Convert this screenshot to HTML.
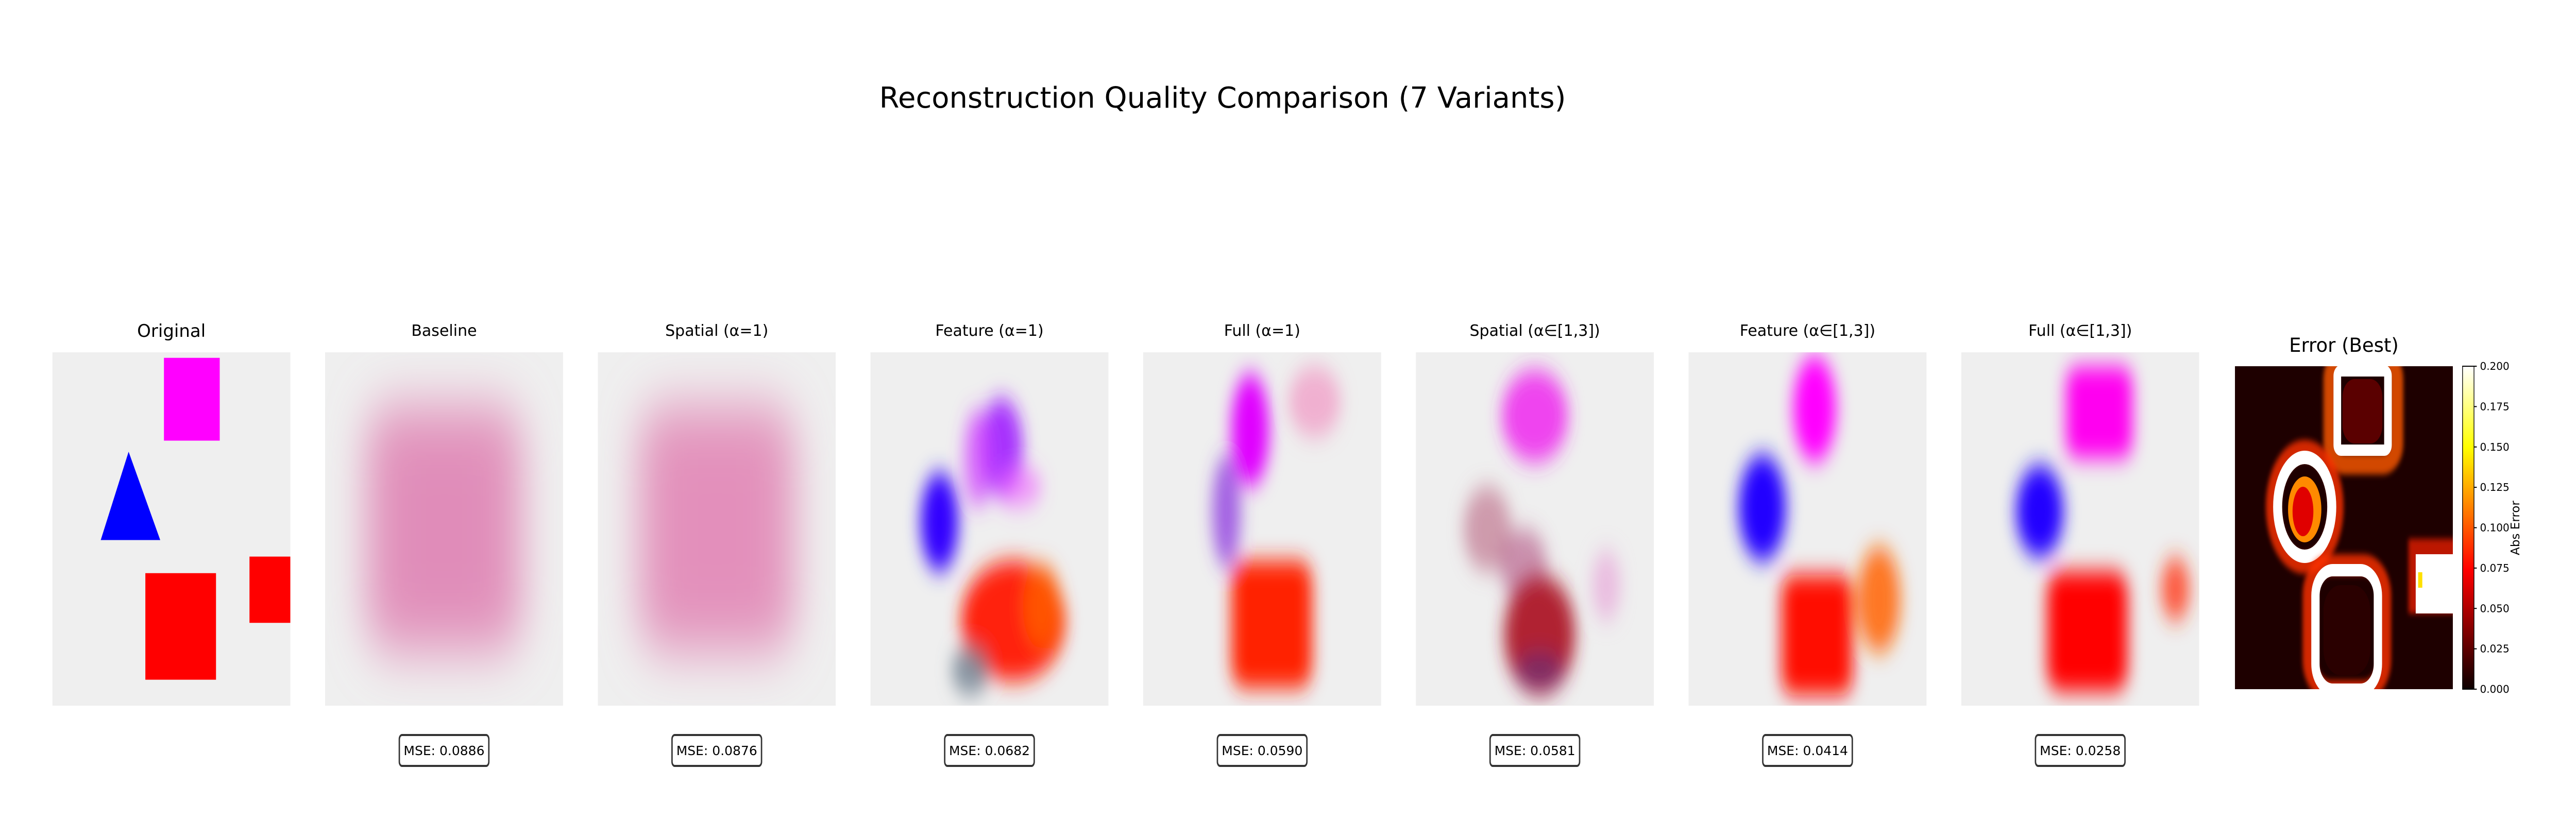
<!DOCTYPE html>
<html><head><meta charset="utf-8">
<style>
html,body{margin:0;padding:0;background:#fff;overflow:hidden;width:100%;height:100%;}
svg{display:block;width:100vw;height:100vh;font-family:"DejaVu Sans","Liberation Sans",sans-serif;}
</style></head>
<body>
<svg id="fig" viewBox="0 0 7425 1625" preserveAspectRatio="none" xmlns="http://www.w3.org/2000/svg">
<defs>
  <filter id="blur1" x="-50%" y="-50%" width="200%" height="200%"><feGaussianBlur stdDeviation="22"/></filter>
  <filter id="blur2" x="-50%" y="-50%" width="200%" height="200%"><feGaussianBlur stdDeviation="55"/></filter>
  <filter id="blur3" x="-50%" y="-50%" width="200%" height="200%"><feGaussianBlur stdDeviation="6"/></filter>
  <linearGradient id="hot" x1="0" y1="1" x2="0" y2="0">
    <stop offset="0" stop-color="#0b0000"/>
    <stop offset="0.37" stop-color="#ff0000"/>
    <stop offset="0.75" stop-color="#ffff00"/>
    <stop offset="1" stop-color="#ffffff"/>
  </linearGradient>
</defs>
<text x="3524" y="209" font-size="56" text-anchor="middle">Reconstruction Quality Comparison (7 Variants)</text>
<g id="panels"></g>
<g id="errpanel">
  <text x="6756" y="683" font-size="37" text-anchor="middle">Error (Best)</text>
  <clipPath id="clipErr"><rect x="6442" y="711" width="628" height="627"/></clipPath>
  <g clip-path="url(#clipErr)">
    <rect x="6442" y="711" width="628" height="627" fill="#1e0000"/>
    <g transform="translate(6442,711)">
      <rect x="275" y="-15" width="190" height="205" rx="40" fill="none" stroke="#ff5a00" stroke-width="40" opacity="0.8" filter="url(#blur3)"/>
      <rect x="295" y="9" width="146" height="154" rx="10" fill="none" stroke="#fff" stroke-width="22"/>
      <rect x="310" y="25" width="115" height="125" rx="35" fill="#5a0000"/>
      <ellipse cx="201" cy="273" rx="92" ry="110" fill="none" stroke="#ff3000" stroke-width="40" opacity="0.8" filter="url(#blur3)"/>
      <ellipse cx="201" cy="273" rx="78" ry="96" fill="none" stroke="#fff" stroke-width="26"/>
      <ellipse cx="201" cy="278" rx="48" ry="64" fill="#ff8a00"/>
      <ellipse cx="196" cy="282" rx="30" ry="48" fill="#e00000"/>
      <rect x="215" y="385" width="215" height="245" rx="60" fill="none" stroke="#ff3000" stroke-width="40" opacity="0.8" filter="url(#blur3)"/>
      <rect x="232" y="396" width="180" height="232" rx="50" fill="none" stroke="#fff" stroke-width="24"/>
      <rect x="255" y="425" width="135" height="175" rx="50" fill="#2a0000"/>
      <rect x="500" y="335" width="150" height="145" fill="#ff2000" opacity="0.7" filter="url(#blur3)"/>
      <rect x="521" y="365" width="110" height="115" fill="#fff"/>
      <rect x="528" y="400" width="12" height="30" fill="#ffe000"/>
    </g>
  </g>
  <rect x="7098" y="711" width="33" height="627" fill="url(#hot)" stroke="#000" stroke-width="2"/>
  <g id="cbticks"></g>
  <text id="cblabel" transform="translate(7262,1025) rotate(-90)" font-size="23" text-anchor="middle">Abs Error</text>
</g>
</svg>
<script>
const titles = ["Original","Baseline","Spatial (α=1)","Feature (α=1)","Full (α=1)","Spatial (α∈[1,3])","Feature (α∈[1,3])","Full (α∈[1,3])"];
const mseValues = [null,0.0886,0.0876,0.0682,0.0590,0.0581,0.0414,0.0258];
const cbTicks = [0,0.025,0.05,0.075,0.1,0.125,0.15,0.175,0.2];
// [cx, cy, rx, ry, color, opacity, isRect]
const blobs = [
  [],
  [[0.5,0.5,0.33,0.35,"#e295bd",1,1],[0.5,0.5,0.2,0.22,"#e08ab8",0.8,1]],
  [[0.5,0.5,0.33,0.35,"#e397be",1,1],[0.5,0.5,0.2,0.22,"#e28dba",0.8,1]],
  [[0.55,0.27,0.09,0.14,"#a020ff",0.9],[0.45,0.3,0.06,0.14,"#d040ff",0.7],[0.62,0.38,0.1,0.06,"#ee60ff",0.6],[0.29,0.48,0.08,0.14,"#3000ff",1],[0.6,0.76,0.22,0.17,"#ff2010",1],[0.72,0.72,0.08,0.12,"#ff6000",0.8],[0.42,0.9,0.08,0.07,"#708090",0.8]],
  [[0.45,0.22,0.08,0.16,"#e000ff",1],[0.35,0.45,0.06,0.16,"#9040e0",0.8],[0.72,0.14,0.11,0.1,"#f0a0c8",0.8],[0.54,0.77,0.17,0.18,"#ff2000",1,1]],
  [[0.5,0.18,0.14,0.13,"#ee30ee",0.9],[0.3,0.5,0.1,0.12,"#c07890",0.7],[0.45,0.6,0.1,0.1,"#b05080",0.6],[0.52,0.8,0.15,0.17,"#b02030",1],[0.52,0.9,0.1,0.05,"#703070",0.8],[0.8,0.66,0.06,0.1,"#e8b0dc",0.8]],
  [[0.53,0.16,0.09,0.15,"#ff00ff",1],[0.31,0.44,0.1,0.15,"#2000ff",1],[0.54,0.8,0.15,0.17,"#ff1000",1,1],[0.8,0.7,0.09,0.15,"#ff6a10",0.9]],
  [[0.58,0.17,0.14,0.13,"#ff00f0",1,1],[0.33,0.45,0.1,0.13,"#2000ff",1],[0.53,0.79,0.17,0.17,"#ff0000",1,1],[0.9,0.67,0.06,0.09,"#ff4020",0.85]]
];
const NS = "http://www.w3.org/2000/svg";
const PX0 = 151, STEP = 786, PW = 686, PY = 684, PH = 686;
function px(i){ return PX0 + i*STEP; }
function mk(tag, attrs, parent){ const e=document.createElementNS(NS,tag); for(const k in attrs) e.setAttribute(k,attrs[k]); parent.appendChild(e); return e; }
const panels = document.getElementById("panels");
titles.forEach((t,i)=>{
  const x = px(i);
  const g = mk("g",{},panels);
  
  
  const tt = mk("text",{"x":x+PW/2,"y":i===0?654:652,"font-size":i===0?34:30,"text-anchor":"middle"},g);
  tt.textContent = t;
  
  
  const cp = mk("clipPath",{"id":"cp"+i},g);
  mk("rect",{"x":x,"y":PY,"width":PW,"height":PH},cp);
  const img = mk("g",{"clip-path":"url(#cp"+i+")"},g);
  
  
  mk("rect",{"x":x,"y":PY,"width":PW,"height":PH,"fill":"#efefef"},img);
  if(i===0){
    const s = PW/64;
    const r1=mk("rect",{"x":x+30*s,"y":PY+1*s,"width":15*s,"height":15*s,"fill":"#ff00ff"},img);
    
    
    const tri=mk("polygon",{"points":`${x+20.5*s},${PY+18*s} ${x+13*s},${PY+34*s} ${x+29*s},${PY+34*s}`,"fill":"#0000ff"},img);
    
    
    const r2=mk("rect",{"x":x+25*s,"y":PY+40*s,"width":19*s,"height":19.3*s,"fill":"#ff0000"},img);
    
    
    const r3=mk("rect",{"x":x+53*s,"y":PY+37*s,"width":11*s,"height":12*s,"fill":"#ff0000"},img);
    
    
  } else {
    const fg = mk("g",{"filter":(i<=2)?"url(#blur2)":"url(#blur1)"},img);
    blobs[i].forEach(b=>{
      let e;
      if(b[6]){
        e = mk("rect",{"x":x+(b[0]-b[2])*PW,"y":PY+(b[1]-b[3])*PH,"width":2*b[2]*PW,"height":2*b[3]*PH,"rx":b[2]*PW*0.35,"fill":b[4],"opacity":b[5]},fg);
      } else {
        e = mk("ellipse",{"cx":x+b[0]*PW,"cy":PY+b[1]*PH,"rx":b[2]*PW,"ry":b[3]*PH,"fill":b[4],"opacity":b[5]},fg);
      }
      
      
    });
  }
  if(mseValues[i]!==null){
    const cx = x+PW/2;
    const box = mk("rect",{"x":cx-129,"y":1427,"width":258,"height":60,"rx":8,"fill":"#fff","stroke":"#333","stroke-width":4},g);
    
    
    const mt = mk("text",{"x":cx,"y":1466,"font-size":25,"text-anchor":"middle"},g);
    mt.textContent = "MSE: "+mseValues[i].toFixed(4);
    
    
  }
});
const cb = document.getElementById("cbticks");
const CBT=711, CBB=1338;
function cbY(v){ return CBB - (v/0.2)*(CBB-CBT); }
cbTicks.forEach(v=>{
  const y=cbY(v);
  const l=mk("line",{"x1":7131,"x2":7139,"y1":y,"y2":y,"stroke":"#000","stroke-width":2},cb);
  
  
  const t=mk("text",{"x":7148,"y":y+7,"font-size":20},cb);
  t.textContent=v.toFixed(3);
  
  
});
// counteract non-uniform stretching so glyphs keep natural proportions
(function(){
  const sx = window.innerWidth/7425, sy = window.innerHeight/1625;
  if(!sx || !sy) return;
  const k = sy/sx;
  if(Math.abs(k-1) < 0.01) return;
  document.querySelectorAll("#fig text").forEach(t=>{
    let ax, ay;
    if(t.id === "cblabel"){ ax = 7262; ay = 1025; }
    else { ax = parseFloat(t.getAttribute("x")); ay = parseFloat(t.getAttribute("y")); }
    const w = document.createElementNS(NS,"g");
    w.setAttribute("transform", `translate(${ax},${ay}) scale(${k},1) translate(${-ax},${-ay})`);
    t.parentNode.insertBefore(w, t);
    w.appendChild(t);
  });
})();
</script>
</body></html>
